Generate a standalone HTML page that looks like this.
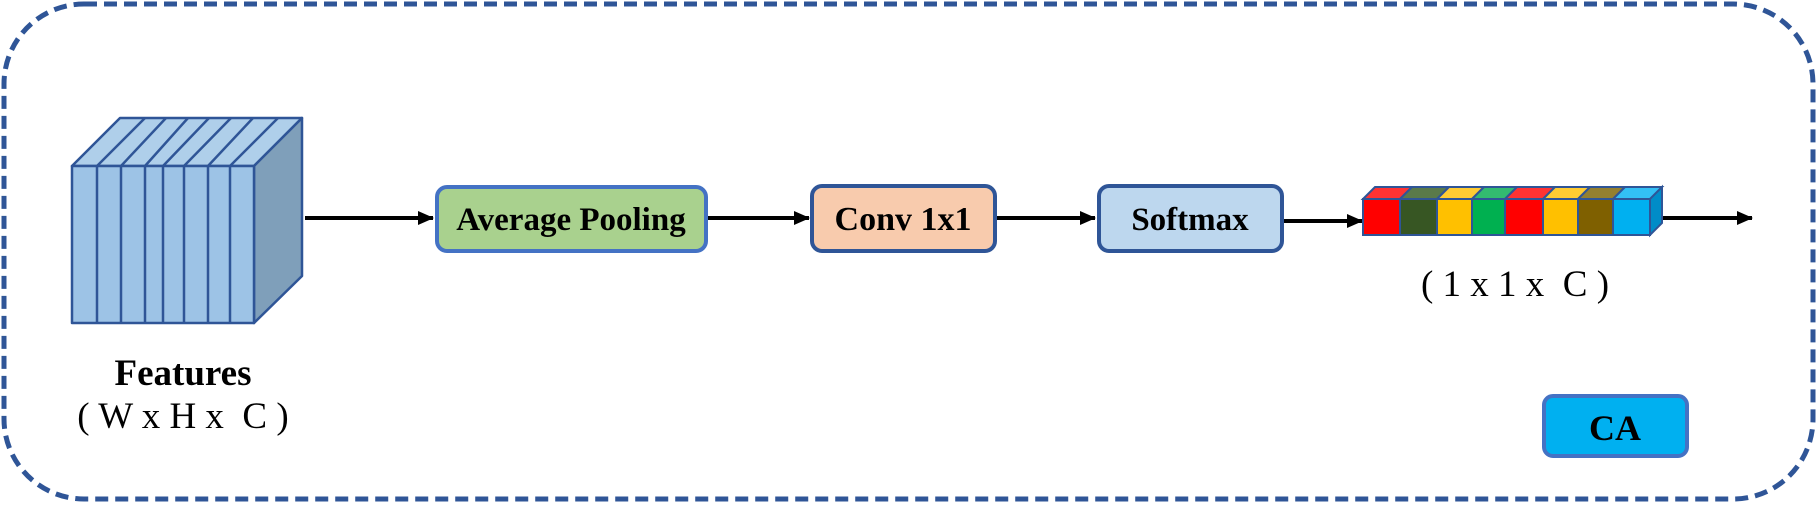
<!DOCTYPE html>
<html><head><meta charset="utf-8"><style>
body{margin:0;width:1817px;height:503px;background:#fff;overflow:hidden}
svg text{font-family:"Liberation Serif",serif}
</style></head><body>
<svg width="1817" height="503" viewBox="0 0 1817 503" xmlns="http://www.w3.org/2000/svg">
<defs><marker id="ah" markerWidth="16" markerHeight="14" refX="15" refY="7" orient="auto" markerUnits="userSpaceOnUse"><path d="M0,0 L16,7 L0,14 z" fill="#000"/></marker></defs>
<rect x="4" y="4" width="1809" height="495" rx="80" ry="80" fill="none" stroke="#2f5597" stroke-width="5" stroke-dasharray="13,7"/>
<!-- cube -->
<g stroke="#2f5597" stroke-width="2.5" stroke-linejoin="round">
<polygon points="72,166 120,118 302,118 254,166" fill="#afcfea"/>
<polygon points="254,166 302,118 302,276 254,323" fill="#7f9fba"/>
<rect x="72" y="166" width="182" height="157" fill="#9dc3e6"/>
<g fill="none">
<line x1="97" y1="166" x2="97" y2="323"/><line x1="121" y1="166" x2="121" y2="323"/><line x1="145" y1="166" x2="145" y2="323"/><line x1="163" y1="166" x2="163" y2="323"/><line x1="184" y1="166" x2="184" y2="323"/><line x1="208" y1="166" x2="208" y2="323"/><line x1="230" y1="166" x2="230" y2="323"/>
<line x1="97" y1="166" x2="145" y2="118"/><line x1="121" y1="166" x2="166" y2="118"/><line x1="145" y1="166" x2="188" y2="118"/><line x1="163" y1="166" x2="209" y2="118"/><line x1="184" y1="166" x2="231" y2="118"/><line x1="208" y1="166" x2="253" y2="118"/><line x1="230" y1="166" x2="278" y2="118"/>
</g></g>
<text x="183" y="385" text-anchor="middle" font-size="37" font-weight="bold">Features</text>
<text x="183" y="428" text-anchor="middle" font-size="37" xml:space="preserve">( W x H x  C )</text>
<!-- arrows -->
<g stroke="#000" stroke-width="4" marker-end="url(#ah)">
<line x1="305" y1="218" x2="433" y2="218"/>
<line x1="708" y1="218" x2="809" y2="218"/>
<line x1="997" y1="218" x2="1095" y2="218"/>
<line x1="1283" y1="221" x2="1362" y2="221"/>
<line x1="1662" y1="218" x2="1752" y2="218"/>
</g>
<!-- boxes -->
<rect x="437" y="187" width="269" height="64" rx="10" fill="#a9d18e" stroke="#4472c4" stroke-width="4"/>
<text x="571" y="230" text-anchor="middle" font-size="33" font-weight="bold">Average Pooling</text>
<rect x="812" y="186" width="183" height="65" rx="10" fill="#f8cbad" stroke="#2f5597" stroke-width="4"/>
<text x="903" y="230" text-anchor="middle" font-size="34" font-weight="bold">Conv 1x1</text>
<rect x="1099" y="186" width="183" height="65" rx="10" fill="#bdd7ee" stroke="#2f5597" stroke-width="4"/>
<text x="1190" y="230" text-anchor="middle" font-size="33" font-weight="bold">Softmax</text>
<rect x="1544" y="396" width="143" height="60" rx="9" fill="#00b0f0" stroke="#4472c4" stroke-width="4"/>
<text x="1615" y="440" text-anchor="middle" font-size="36" font-weight="bold">CA</text>
<!-- vector -->
<g stroke="#2f5597" stroke-width="2">
<polygon points="1363,199 1375,187 1412,187 1400,199" fill="#ff3333"/>
<polygon points="1400,199 1412,187 1449,187 1437,199" fill="#5a7a4a"/>
<polygon points="1437,199 1449,187 1484,187 1472,199" fill="#ffcc33"/>
<polygon points="1472,199 1484,187 1517,187 1505,199" fill="#33bb70"/>
<polygon points="1505,199 1517,187 1555,187 1543,199" fill="#ff3333"/>
<polygon points="1543,199 1555,187 1590,187 1578,199" fill="#ffcc33"/>
<polygon points="1578,199 1590,187 1625,187 1613,199" fill="#948030"/>
<polygon points="1613,199 1625,187 1662,187 1650,199" fill="#33c0f5"/>
<polygon points="1650,199 1662,187 1662,223 1650,235" fill="#008cc8"/>
<rect x="1363" y="199" width="37" height="36" fill="#ff0000"/>
<rect x="1400" y="199" width="37" height="36" fill="#375623"/>
<rect x="1437" y="199" width="35" height="36" fill="#ffc000"/>
<rect x="1472" y="199" width="33" height="36" fill="#00b050"/>
<rect x="1505" y="199" width="38" height="36" fill="#ff0000"/>
<rect x="1543" y="199" width="35" height="36" fill="#ffc000"/>
<rect x="1578" y="199" width="35" height="36" fill="#7f6000"/>
<rect x="1613" y="199" width="37" height="36" fill="#00b0f0"/>
</g>
<text x="1515" y="296" text-anchor="middle" font-size="37" xml:space="preserve">( 1 x 1 x  C )</text>
</svg>
</body></html>
